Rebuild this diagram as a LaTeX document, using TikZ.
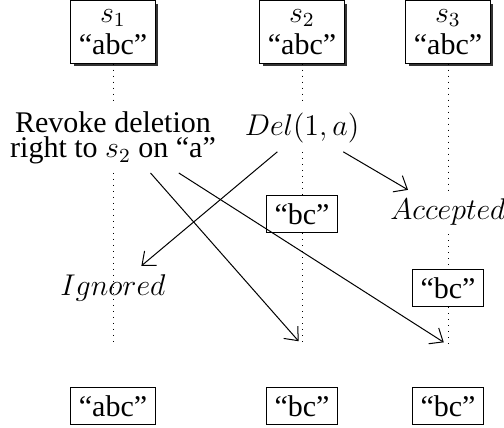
\documentclass[tikz,border=0pt]{standalone}
\usepackage[no-math]{fontspec}
\setmainfont{Liberation Serif}
\usepackage{tikz}
\usetikzlibrary{positioning, arrows.meta, shadows}

\begin{document}
\begin{tikzpicture}[
    x=0.4pt, y=-0.4pt,
    font=\fontsize{12}{14}\selectfont,
    site/.style={rectangle, draw, fill=white, align=center, drop shadow={shadow xshift=1.2pt, shadow yshift=-1.2pt, fill=black!80, opacity=1}},
    strbox/.style={rectangle, draw, fill=white, align=center},
    lbl/.style={align=center},
    life/.style={dotted},
    arrow/.style={-{Straight Barb[length=4.5pt,width=7.5pt]}},
]
\useasboundingbox (0,0) rectangle (504,427);

% sites with their initial strings
\node[site] (s1) at (113,32) {$s_1$\\[-1pt]``abc''};
\node[site] (s2) at (302,32) {$s_2$\\[-1pt]``abc''};
\node[site] (s3) at (448,32) {$s_3$\\[-1pt]``abc''};

% operations and events
\node[lbl] (rev) at (113,138) {Revoke deletion\\[-4pt]right to $s_2$ on ``a''};
\node (del) at (302,128) {$Del(1,a)$};
\node[strbox] (bc2) at (302,214) {``bc''};
\node (acc) at (448,212) {$Accepted$};
\node[strbox] (bc3) at (448,288) {``bc''};
\node (ign) at (113,288) {$Ignored$};

\coordinate (e1) at (113,345);
\coordinate (e2) at (302,345);
\coordinate (e3) at (448,345);

% final states
\node[strbox] (f1) at (113,406) {``abc''};
\node[strbox] (f2) at (302,406) {``bc''};
\node[strbox] (f3) at (448,406) {``bc''};

\foreach \a/\b in {s1/rev, rev/e1, s2/del, del/bc2, bc2/e2, s3/acc, acc/bc3, bc3/e3} {
    \draw[life] (\a) -- (\b);
}

\draw[arrow] (del.224) -- (ign.38);
\draw[arrow] (del.330) -- (acc.151);
\draw[arrow, shorten >=2pt] (rev.317) -- (e2);
\draw[arrow, shorten >=2pt] (rev.332) -- (e3);

\end{tikzpicture}
\end{document}
